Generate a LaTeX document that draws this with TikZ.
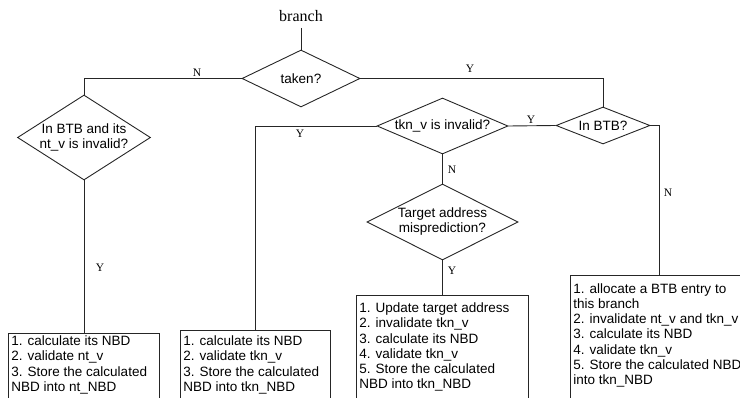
\documentclass[tikz,border=0pt]{standalone}
\usepackage{fontspec}
\setmainfont{Liberation Serif}
\newfontfamily\arialf{Liberation Sans}
\usetikzlibrary{shapes.geometric}

% text block of a step box: height, width, top gap, lines
\newcommand\steptext[4]{\parbox[c][#1][t]{#2}{\raggedright\vspace*{#3}#4}}

\begin{document}
\begin{tikzpicture}[x=1pt,y=-1pt,
  line/.style={draw=black!85, line width=0.9pt},
  dec/.style={diamond, draw=black!85, line width=0.9pt, inner sep=0pt,
    font=\arialf\fontsize{13.5}{15}\selectfont, align=center},
  lbl/.style={font=\fontsize{11.5}{12}\selectfont, inner sep=0pt},
  stepbox/.style={draw=black!85, line width=0.9pt, inner xsep=3pt, inner ysep=0pt,
    anchor=north west, font=\arialf\fontsize{13.5}{15.2}\selectfont}]
\useasboundingbox (0,0) rectangle (740,398);
\clip (0,0) rectangle (740,398);

% start
\node[font=\fontsize{16}{16}\selectfont, inner xsep=0pt, inner ysep=6pt, anchor=south] (branch) at (301,28) {branch};

% decisions
\node[dec, aspect=2.07, minimum width=118pt, minimum height=57pt] (taken) at (301,78.5) {taken?};
\node[dec, aspect=1.56, minimum width=133pt, minimum height=85pt] (ntv) at (84,137.5) {In BTB and its\\nt\_v is invalid?};
\node[dec, aspect=2.54, minimum width=94pt, minimum height=37pt] (inbtb) at (603,125.5) {In BTB?};
\node[dec, aspect=2.34, minimum width=131pt, minimum height=56pt] (tknv) at (442.5,126) {tkn\_v is invalid?};
\node[dec, aspect=1.99, minimum width=151pt, minimum height=76pt] (target) at (442.5,222) {Target address\\misprediction?};

% actions
\node[stepbox] (b1) at (8,333) {\steptext{80pt}{145pt}{2.5pt}{1. calculate its NBD\\2. validate nt\_v\\3. Store the calculated\\NBD into nt\_NBD}};
\node[stepbox] (b2) at (180,330.5) {\steptext{80pt}{144pt}{5pt}{1. calculate its NBD\\2. validate tkn\_v\\3. Store the calculated\\NBD into tkn\_NBD}};
\node[stepbox] (b3) at (356,295) {\steptext{115pt}{166pt}{7.5pt}{1. Update target address\\2. invalidate tkn\_v\\3. calculate its NBD\\4. validate tkn\_v\\5. Store the calculated\\NBD into tkn\_NBD}};
\node[stepbox] (b4) at (570,275) {\steptext{135pt}{172pt}{8pt}{1. allocate a BTB entry to\\this branch\\2. invalidate nt\_v and tkn\_v\\3. calculate its NBD\\4. validate tkn\_v\\5. Store the calculated NBD\\into tkn\_NBD}};

% connectors
\draw[line] (branch.south) -- (taken.north);
\draw[line] (taken.west) -| (ntv.north);
\draw[line] (taken.east) -| (inbtb.north);
\draw[line] (ntv.south) -- (ntv.south |- b1.north);
\draw[line] (inbtb.west) -- (tknv.east);
\draw[line] (tknv.west) -| (b2.north);
\draw[line] (tknv.south) -- (target.north);
\draw[line] (target.south) -- (target.south |- b3.north);
\draw[line] (inbtb.east) -| (b4.north);

% branch labels
\node[lbl] (lN1) at (197,72.5) {N};
\node[lbl] (lY1) at (470,69) {Y};
\node[lbl] (lY2) at (531,120) {Y};
\node[lbl] (lY3) at (300,134) {Y};
\node[lbl] (lN2) at (452,170) {N};
\node[lbl] (lN3) at (668,193) {N};
\node[lbl] (lY4) at (100,268) {Y};
\node[lbl] (lY5) at (452,271) {Y};
\end{tikzpicture}
\end{document}
